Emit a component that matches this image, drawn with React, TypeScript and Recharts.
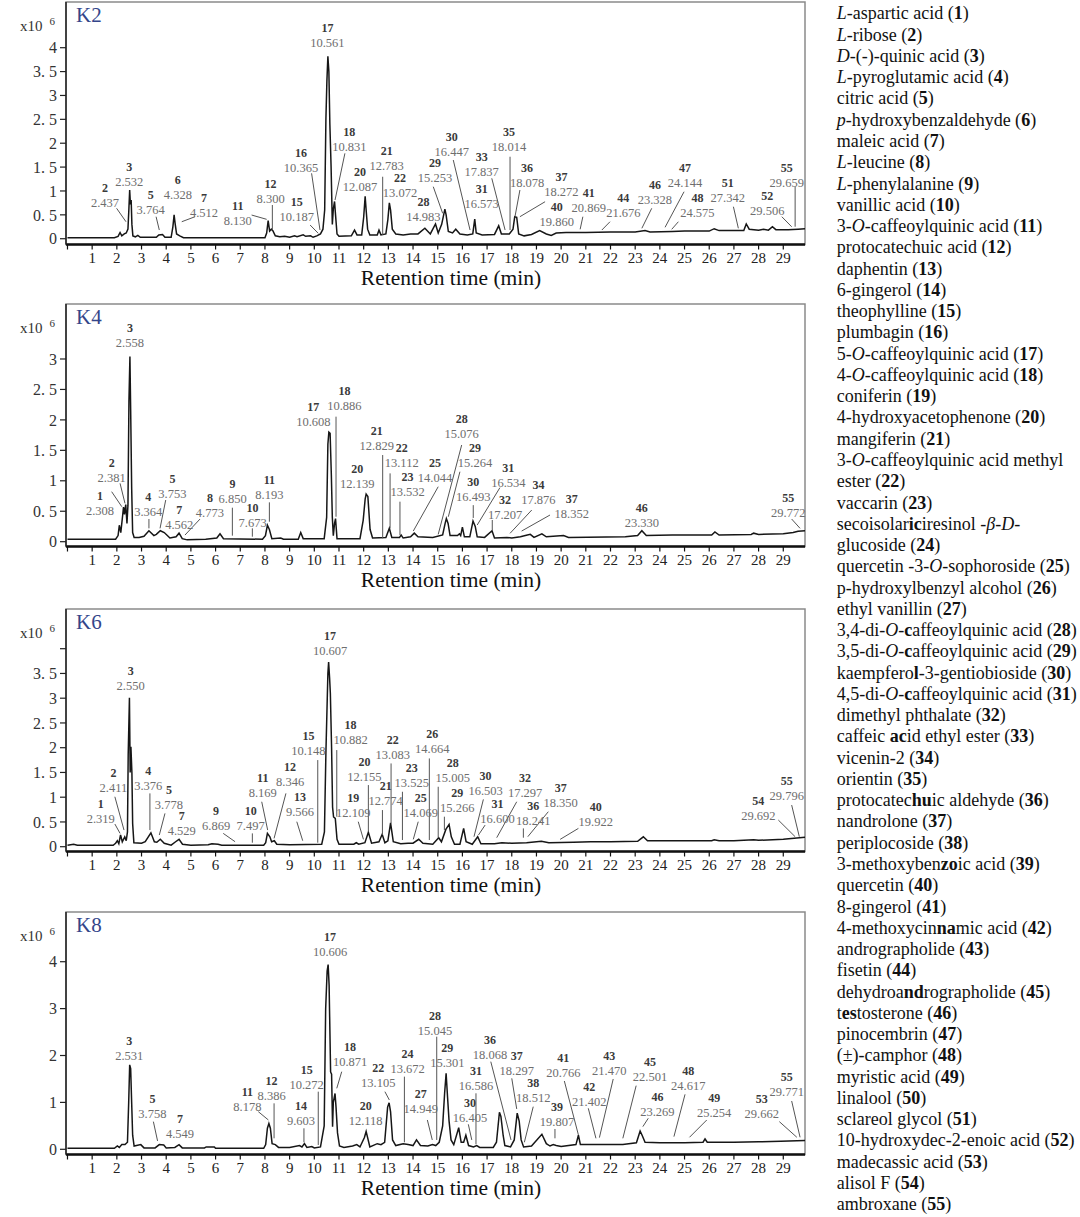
import React from 'react';
import { LineChart, Line, XAxis, YAxis, ReferenceDot, ReferenceLine, ReferenceArea } from 'recharts';

const FONT = '"Liberation Serif", "Times New Roman", serif';

const xTicks = [0, 1, 2, 3, 4, 5, 6, 7, 8, 9, 10, 11, 12, 13, 14, 15, 16, 17, 18, 19, 20, 21, 22, 23, 24, 25, 26, 27, 28, 29];
const xDomain: [number, number] = [-0.06, 29.88];

// ---- traces: [retention time (min), intensity (x10^6)] ----
const k2Trace = [[0,0.02],[1.9,0.02],[2.05,0.05],[2.13,0.13],[2.2,0.06],[2.3,0.1],[2.38,0.12],[2.45,0.2],[2.49,0.65],[2.52,1.02],[2.55,0.72],[2.58,0.81],[2.61,0.3],[2.65,0.06],[2.75,0.04],[2.85,0.07],[2.95,0.03],[3.6,0.03],[3.7,0.08],[3.85,0.09],[3.95,0.03],[4.2,0.03],[4.27,0.25],[4.32,0.5],[4.36,0.32],[4.42,0.1],[4.55,0.06],[4.7,0.02],[8.0,0.02],[8.07,0.12],[8.13,0.38],[8.19,0.16],[8.26,0.2],[8.32,0.17],[8.42,0.06],[8.6,0.04],[8.8,0.05],[9.0,0.03],[9.2,0.06],[9.3,0.04],[9.55,0.08],[9.65,0.05],[9.85,0.06],[9.95,0.03],[10.1,0.06],[10.25,0.1],[10.35,0.2],[10.42,0.6],[10.47,2.5],[10.51,3.3],[10.55,3.82],[10.59,3.5],[10.63,2.4],[10.68,1.5],[10.73,0.3],[10.77,0.62],[10.82,0.78],[10.86,0.5],[10.92,0.1],[11.0,0.05],[11.5,0.06],[11.63,0.18],[11.73,0.08],[11.92,0.08],[12.0,0.45],[12.06,0.89],[12.1,0.6],[12.16,0.2],[12.25,0.08],[12.55,0.08],[12.62,0.18],[12.7,0.08],[12.9,0.1],[12.98,0.4],[13.04,0.75],[13.09,0.6],[13.16,0.2],[13.3,0.1],[13.6,0.08],[13.9,0.1],[14.2,0.1],[14.48,0.22],[14.7,0.1],[14.91,0.31],[15.02,0.12],[15.16,0.3],[15.29,0.62],[15.34,0.5],[15.43,0.15],[15.6,0.12],[15.73,0.2],[15.9,0.1],[16.2,0.08],[16.42,0.1],[16.5,0.41],[16.56,0.12],[16.8,0.08],[17.3,0.09],[17.47,0.27],[17.58,0.1],[17.9,0.1],[18.05,0.2],[18.12,0.46],[18.2,0.45],[18.28,0.1],[18.5,0.06],[18.8,0.09],[19.13,0.17],[19.4,0.1],[19.6,0.07],[19.8,0.12],[20.2,0.13],[21,0.13],[22,0.14],[23,0.14],[23.4,0.17],[23.6,0.14],[24.5,0.15],[25,0.16],[26.0,0.16],[26.2,0.21],[26.4,0.17],[27.4,0.17],[27.5,0.31],[27.62,0.2],[28,0.18],[28.2,0.2],[28.4,0.18],[28.56,0.25],[28.7,0.19],[29.2,0.19],[29.6,0.2],[29.88,0.21]];

const k4Trace = [[0,0.04],[1.95,0.04],[2.05,0.1],[2.1,0.27],[2.16,0.15],[2.24,0.45],[2.27,0.57],[2.31,0.45],[2.36,0.61],[2.41,0.3],[2.45,0.6],[2.49,2.3],[2.53,3.04],[2.56,2.16],[2.6,0.89],[2.64,0.15],[2.7,0.07],[2.9,0.07],[3.1,0.09],[3.3,0.18],[3.5,0.1],[3.6,0.12],[3.76,0.18],[3.92,0.15],[4.15,0.06],[4.4,0.08],[4.52,0.14],[4.65,0.05],[4.85,0.03],[5.6,0.04],[6.05,0.06],[6.18,0.13],[6.32,0.05],[7.9,0.04],[8.02,0.1],[8.1,0.27],[8.18,0.2],[8.28,0.05],[8.64,0.06],[8.75,0.04],[9.35,0.04],[9.45,0.15],[9.55,0.05],[10.4,0.05],[10.5,0.4],[10.55,1.6],[10.59,1.8],[10.64,1.78],[10.69,1.1],[10.73,0.4],[10.77,0.1],[10.82,0.3],[10.86,0.38],[10.92,0.05],[11.85,0.05],[11.98,0.35],[12.06,0.7],[12.1,0.78],[12.17,0.74],[12.26,0.2],[12.36,0.06],[12.9,0.07],[13.04,0.22],[13.14,0.07],[13.45,0.07],[13.52,0.11],[13.6,0.06],[13.9,0.08],[14.05,0.14],[14.2,0.08],[14.8,0.07],[15.2,0.11],[15.3,0.3],[15.35,0.38],[15.42,0.3],[15.5,0.1],[15.8,0.1],[15.88,0.13],[15.93,0.1],[16.0,0.24],[16.08,0.08],[16.3,0.08],[16.43,0.34],[16.52,0.25],[16.6,0.08],[16.9,0.07],[17.2,0.18],[17.3,0.06],[17.8,0.07],[18.0,0.06],[18.35,0.08],[18.55,0.1],[18.75,0.12],[18.9,0.07],[19.22,0.13],[19.4,0.08],[20.1,0.1],[20.3,0.07],[22.6,0.08],[23.1,0.1],[23.27,0.18],[23.45,0.1],[24.5,0.11],[25.5,0.11],[26.1,0.11],[26.23,0.16],[26.4,0.11],[27.7,0.12],[27.8,0.14],[28.0,0.12],[29.0,0.13],[29.4,0.15],[29.6,0.17],[29.88,0.18]];

const k6Trace = [[0,0.03],[0.25,0.05],[0.4,0.03],[1.85,0.03],[1.95,0.07],[2.02,0.12],[2.08,0.06],[2.15,0.24],[2.22,0.1],[2.32,0.2],[2.38,0.12],[2.43,0.3],[2.46,1.87],[2.51,3.01],[2.54,1.5],[2.57,2.02],[2.61,1.5],[2.64,0.47],[2.69,0.08],[3.0,0.07],[3.15,0.1],[3.38,0.28],[3.52,0.1],[3.62,0.09],[3.76,0.15],[3.92,0.07],[4.2,0.03],[4.38,0.1],[4.52,0.15],[4.66,0.05],[5.0,0.03],[5.7,0.04],[5.85,0.06],[6.1,0.05],[6.25,0.03],[7.95,0.03],[8.03,0.08],[8.1,0.27],[8.2,0.2],[8.27,0.1],[8.38,0.12],[8.48,0.05],[9.0,0.04],[10.3,0.05],[10.41,0.3],[10.47,1.9],[10.5,2.5],[10.55,3.5],[10.58,3.73],[10.62,3.4],[10.65,3.1],[10.7,2.0],[10.74,0.8],[10.78,0.6],[10.85,0.57],[10.92,0.15],[11.0,0.05],[11.6,0.05],[11.7,0.08],[11.8,0.05],[12.05,0.08],[12.19,0.29],[12.32,0.07],[12.62,0.1],[12.75,0.25],[12.86,0.08],[12.98,0.12],[13.09,0.48],[13.2,0.1],[13.5,0.06],[13.8,0.07],[14.0,0.07],[14.23,0.15],[14.4,0.07],[14.8,0.05],[15.04,0.18],[15.15,0.1],[15.33,0.35],[15.46,0.45],[15.55,0.2],[15.68,0.05],[15.9,0.05],[16.05,0.37],[16.15,0.1],[16.4,0.05],[16.62,0.2],[16.75,0.06],[17.3,0.06],[17.6,0.08],[18.0,0.07],[18.6,0.08],[19.2,0.11],[19.5,0.08],[20.5,0.09],[21.2,0.1],[22.0,0.1],[23.1,0.11],[23.33,0.2],[23.5,0.12],[25.0,0.12],[26.1,0.12],[26.2,0.14],[26.4,0.12],[27.0,0.12],[27.8,0.14],[28.0,0.13],[29.0,0.15],[29.88,0.19]];

const k8Trace = [[0,0.02],[1.9,0.02],[2.02,0.07],[2.1,0.04],[2.2,0.1],[2.33,0.1],[2.43,0.15],[2.48,1.0],[2.52,1.8],[2.56,1.72],[2.6,1.0],[2.64,0.3],[2.7,0.07],[2.97,0.1],[3.1,0.03],[3.55,0.03],[3.72,0.1],[3.9,0.09],[4.0,0.03],[4.35,0.04],[4.52,0.1],[4.65,0.03],[5.55,0.03],[5.62,0.05],[5.95,0.05],[6.0,0.02],[7.95,0.02],[8.03,0.1],[8.1,0.45],[8.16,0.55],[8.22,0.45],[8.29,0.12],[8.42,0.1],[8.55,0.04],[9.0,0.04],[9.4,0.08],[9.5,0.05],[9.6,0.12],[9.7,0.04],[9.9,0.06],[10.0,0.03],[10.25,0.05],[10.4,0.5],[10.46,3.0],[10.52,3.8],[10.56,3.94],[10.6,3.5],[10.66,1.65],[10.7,1.6],[10.74,0.48],[10.77,1.0],[10.84,1.19],[10.88,0.9],[10.94,0.35],[11.02,0.07],[11.2,0.04],[11.55,0.07],[11.72,0.1],[11.85,0.05],[12.03,0.25],[12.1,0.38],[12.16,0.25],[12.25,0.05],[12.55,0.12],[12.7,0.1],[12.85,0.15],[12.97,0.9],[13.03,0.99],[13.09,0.8],[13.17,0.2],[13.3,0.08],[13.6,0.12],[13.8,0.1],[14.0,0.08],[14.14,0.2],[14.3,0.08],[14.6,0.07],[14.79,0.1],[14.92,0.08],[15.06,0.15],[15.2,0.5],[15.28,1.2],[15.34,1.62],[15.4,1.1],[15.46,0.6],[15.54,0.2],[15.65,0.1],[15.85,0.46],[15.95,0.15],[16.05,0.15],[16.14,0.3],[16.25,0.08],[16.45,0.05],[16.58,0.08],[16.7,0.04],[17.25,0.04],[17.38,0.15],[17.5,0.79],[17.56,0.7],[17.65,0.3],[17.72,0.08],[17.95,0.05],[18.1,0.2],[18.22,0.77],[18.3,0.6],[18.38,0.2],[18.48,0.05],[18.8,0.07],[19.22,0.32],[19.4,0.12],[19.55,0.07],[19.68,0.1],[19.8,0.08],[20.0,0.06],[20.6,0.1],[20.7,0.3],[20.78,0.1],[21.5,0.1],[22.5,0.1],[23.05,0.14],[23.2,0.39],[23.28,0.3],[23.4,0.15],[24.0,0.14],[25.0,0.14],[25.75,0.15],[25.83,0.22],[25.92,0.15],[27.0,0.15],[28.0,0.16],[28.9,0.17],[29.88,0.19]];

// ---- peak annotations: [compound no., retention time text, label x, label y, leader x1, y1, x2, y2] ----
type Ann = (string | number)[];
const k2Labels: Ann[] = [
  ['2','2.437',1.52,0.741,1.99,0.637,2.37,0.356],
  ['3','2.532',2.50,1.194],
  ['5','3.764',3.37,0.601,3.59,0.461,3.72,0.182],
  ['6','4.328',4.47,0.915],
  ['7','4.512',5.53,0.532,5.17,0.461,4.63,0.356],
  ['11','8.130',6.90,0.377,7.46,0.496,8.07,0.406],
  ['12','8.300',8.23,0.831,8.30,0.706,8.30,0.182],
  ['15','10.187',9.29,0.448,9.83,0.287,10.16,0.113],
  ['16','10.365',9.46,1.474,9.89,1.37,10.23,0.182],
  ['17','10.561',10.53,4.092],
  ['18','10.831',11.42,1.927,11.24,1.788,10.84,0.81],
  ['20','12.087',11.85,1.089],
  ['21','12.783',12.93,1.523,12.77,1.298,12.77,0.077],
  ['22','13.072',13.47,0.951],
  ['28','14.983',14.42,0.461],
  ['29','15.253',14.89,1.265,14.82,1.089,15.20,0.532],
  ['30','16.447',15.57,1.822,15.63,1.648,16.31,0.182],
  ['31','16.573',16.78,0.727],
  ['33','17.837',16.78,1.403,17.19,1.265,17.73,0.182],
  ['35','18.014',17.89,1.914,17.93,1.717,17.93,0.182],
  ['36','18.078',18.62,1.16,18.33,1.02,18.13,0.461],
  ['37','18.272',20.01,0.984,19.35,0.775,18.33,0.461],
  ['40','19.860',19.82,0.356],
  ['41','20.869',21.12,0.637,20.88,0.461,20.77,0.197],
  ['44','21.676',22.52,0.532,21.98,0.356,21.65,0.182],
  ['46','23.328',23.80,0.81,23.67,0.637,23.27,0.218],
  ['47','24.144',25.02,1.16,24.98,0.984,24.21,0.239],
  ['48','24.575',25.52,0.532,24.75,0.356,24.48,0.197],
  ['51','27.342',26.75,0.846,26.98,0.67,27.18,0.218],
  ['52','29.506',28.35,0.586,28.94,0.461,29.34,0.251],
  ['55','29.659',29.14,1.173,29.48,1.089,29.48,0.251],
];

const k4Labels: Ann[] = [
  ['1','2.308',1.32,0.504,1.79,0.821,2.20,0.575],
  ['2','2.381',1.79,1.051,2.13,0.958,2.33,0.629],
  ['3','2.558',2.53,3.257],
  ['4','3.364',3.27,0.482,3.30,0.372,3.30,0.219],
  ['5','3.753',4.25,0.777,3.98,0.684,3.75,0.219],
  ['7','4.562',4.53,0.274],
  ['8','4.773',5.77,0.465,5.37,0.372,4.76,0.109],
  ['9','6.850',6.69,0.701,6.68,0.558,6.68,0.099],
  ['10','7.673',7.50,0.312,7.49,0.219,7.49,0.082],
  ['11','8.193',8.18,0.766,8.18,0.646,8.18,0.328],
  ['17','10.608',9.96,1.97],
  ['18','10.886',11.22,2.233,10.88,2.053,10.88,0.41],
  ['20','12.139',11.74,0.947],
  ['21','12.829',12.53,1.571,12.77,1.423,12.77,0.055],
  ['22','13.112',13.54,1.297,13.07,1.122,13.07,0.219],
  ['23','13.532',13.78,0.81,13.47,0.657,13.47,0.109],
  ['25','14.044',14.89,1.04,15.02,0.903,14.01,0.175],
  ['28','15.076',15.97,1.762,15.97,1.587,15.02,0.12],
  ['29','15.264',16.51,1.286,15.90,1.149,15.43,0.41],
  ['30','16.493',16.44,0.739,16.44,0.6,16.44,0.39],
  ['31','16.534',17.86,0.969,17.52,0.887,16.6,0.274],
  ['32','17.207',17.73,0.438,17.21,0.356,17.21,0.192],
  ['34','17.876',19.08,0.684,18.81,0.52,17.93,0.137],
  ['37','18.352',20.43,0.454,19.55,0.438,18.40,0.175],
  ['46','23.330',23.27,0.307],
  ['55','29.772',29.2,0.465,29.34,0.372,29.68,0.219],
];

const k6Labels: Ann[] = [
  ['1','2.319',1.35,0.559,1.92,0.458,2.13,0.269],
  ['2','2.411',1.86,1.191,1.92,1.009,2.29,0.336],
  ['3','2.550',2.56,3.25],
  ['4','3.376',3.27,1.231,3.34,1.077,3.34,0.336],
  ['5','3.778',4.11,0.841,3.95,0.673,3.72,0.236],
  ['7','4.529',4.63,0.323],
  ['9','6.869',6.02,0.424,6.31,0.269,6.79,0.101],
  ['10','7.497',7.42,0.41,7.49,0.269,7.49,0.081],
  ['11','8.169',7.91,1.077,7.87,0.908,8.11,0.336],
  ['12','8.346',9.02,1.299,8.85,1.077,8.37,0.168],
  ['13','9.566',9.42,0.707,9.29,0.505,9.53,0.121],
  ['15','10.148',9.76,1.938,10.14,1.75,10.14,0.081],
  ['17','10.607',10.64,3.957],
  ['18','10.882',11.47,2.153,10.91,1.952,10.91,0.606],
  ['19','12.109',11.58,0.673,11.78,0.505,11.99,0.148],
  ['20','12.155',12.03,1.413,12.19,1.245,12.19,0.303],
  ['21','12.774',12.89,0.922,12.76,0.74,12.76,0.236],
  ['22','13.083',13.18,1.851,13.11,1.682,13.11,0.471],
  ['23','13.525',13.95,1.292,13.57,1.11,13.57,0.135],
  ['25','14.069',14.31,0.673,14.21,0.505,14.01,0.148],
  ['26','14.664',14.78,1.965,14.66,1.783,14.66,0.135],
  ['28','15.005',15.61,1.393,15.02,1.211,15.02,0.182],
  ['29','15.266',15.79,0.774,15.27,0.606,15.27,0.336],
  ['30','16.503',16.94,1.124,16.85,0.956,16.47,0.202],
  ['31','16.600',17.42,0.552,16.92,0.437,16.65,0.236],
  ['32','17.297',18.54,1.077,18.2,0.908,17.39,0.182],
  ['36','18.241',18.87,0.525,18.47,0.37,18.47,0.182],
  ['37','18.350',19.98,0.875,19.48,0.707,18.65,0.202],
  ['40','19.922',21.4,0.505,20.7,0.37,19.96,0.148],
  ['54','29.692',27.99,0.619,28.8,0.538,29.48,0.202],
  ['55','29.796',29.14,1.03,29.34,0.841,29.65,0.202],
];

const k8Labels: Ann[] = [
  ['3','2.531',2.50,1.996],
  ['5','3.758',3.44,0.746,3.48,0.59,3.65,0.178],
  ['7','4.549',4.56,0.32],
  ['11','8.178',7.29,0.895,7.73,0.803,8.14,0.625],
  ['12','8.386',8.27,1.137,8.37,0.98,8.37,0.234],
  ['14','9.603',9.46,0.611,9.58,0.448,9.58,0.149],
  ['15','10.272',9.69,1.371,10.16,1.229,10.16,0.092],
  ['17','10.606',10.64,4.199],
  ['18','10.871',11.45,1.854,11.11,1.655,10.91,1.3],
  ['20','12.118',12.08,0.611],
  ['22','13.105',12.59,1.421,12.86,1.229,13.04,1.052],
  ['24','13.672',13.78,1.705,13.65,1.549,13.65,0.149],
  ['27','14.949',14.31,0.853,14.58,0.625,14.78,0.199],
  ['28','15.045',14.89,2.529,14.96,2.401,14.96,0.199],
  ['29','15.301',15.39,1.833],
  ['30','16.405',16.31,0.661,16.24,0.533,16.38,0.199],
  ['31','16.586',16.55,1.35,16.55,1.194,16.55,0.107],
  ['36','18.068',17.12,2.011,17.15,1.869,17.97,0.199],
  ['37','18.297',18.2,1.67,18.0,1.513,18.2,0.86],
  ['38','18.512',18.87,1.087,18.87,0.909,18.51,0.149],
  ['39','19.807',19.83,0.59,19.75,0.433,19.75,0.234],
  ['41','20.766',20.09,1.62,20.13,1.456,20.70,0.306],
  ['42','21.402',21.14,1.016,21.1,0.874,21.41,0.234],
  ['43','21.470',21.95,1.677,22.11,1.499,21.55,0.249],
  ['45','22.501',23.6,1.535,23.04,1.357,22.5,0.234],
  ['46','23.269',23.9,0.789,23.53,0.661,23.31,0.483],
  ['48','24.617',25.15,1.35,25.02,1.172,24.57,0.27],
  ['49','25.254',26.2,0.767,25.9,0.625,25.2,0.256],
  ['53','29.662',28.13,0.753,28.84,0.59,29.55,0.256],
  ['55','29.771',29.14,1.229,29.34,1.03,29.68,0.256],
];

// ---- y axes ----
const k2YTicks = [0, 0.5, 1, 1.5, 2, 2.5, 3, 3.5, 4];
const k2YTickLabels = ['0', '0. 5', '1', '1. 5', '2', '2. 5', '3', '3. 5', '4'];
const k4YTicks = [0, 0.5, 1, 1.5, 2, 2.5, 3];
const k4YTickLabels = ['0', '0. 5', '1', '1. 5', '2', '2. 5', '3'];
const k6YTicks = [0, 0.5, 1, 1.5, 2, 2.5, 3, 3.5, 4];
const k6YTickLabels = ['0', '0. 5', '1', '1. 5', '2', '2. 5', '3', '3. 5', ''];
const k8YTicks = [0, 1, 2, 3, 4];
const k8YTickLabels = ['0', '1', '2', '3', '4'];

const k2YDomain: [number, number] = [-0.121, 4.957];
const k4YDomain: [number, number] = [-0.079, 3.903];
const k6YDomain: [number, number] = [-0.097, 4.802];
const k8YDomain: [number, number] = [-0.111, 5.06];

const panelNames = ['K2', 'K4', 'K6', 'K8'];

// ---- compound list (_italic_, *bold*) ----
const compoundLines = [
  '_L_-aspartic acid (*1*)',
  '_L_-ribose (*2*)',
  '_D_-(-)-quinic acid (*3*)',
  '_L_-pyroglutamic acid (*4*)',
  'citric acid (*5*)',
  '_p_-hydroxybenzaldehyde (*6*)',
  'maleic acid (*7*)',
  '_L_-leucine (*8*)',
  '_L_-phenylalanine (*9*)',
  'vanillic acid (*10*)',
  '3-_O_-caffeoylquinic acid (*11*)',
  'protocatechuic acid (*12*)',
  'daphentin (*13*)',
  '6-gingerol (*14*)',
  'theophylline (*15*)',
  'plumbagin (*16*)',
  '5-_O_-caffeoylquinic acid (*17*)',
  '4-_O_-caffeoylquinic acid (*18*)',
  'coniferin (*19*)',
  '4-hydroxyacetophenone (*20*)',
  'mangiferin (*21*)',
  '3-_O_-caffeoylquinic acid methyl',
  'ester (*22*)',
  'vaccarin (*23*)',
  'secoisolar*ic*iresinol -_β-D_-',
  'glucoside (*24*)',
  'quercetin -3-_O_-sophoroside (*25*)',
  'p-hydroxylbenzyl alcohol (*26*)',
  'ethyl vanillin (*27*)',
  '3,4-di-_O_-*c*affeoylquinic acid (*28*)',
  '3,5-di-_O_-*c*affeoylquinic acid (*29*)',
  'kaempfero*l*-3-gentiobioside (*30*)',
  '4,5-di-_O_-*c*affeoylquinic acid (*31*)',
  'dimethyl phthalate (*32*)',
  'caffeic *ac*id ethyl ester (*33*)',
  'vicenin-2 (*34*)',
  'orientin (*35*)',
  'protocatec*hu*ic aldehyde (*36*)',
  'nandrolone (*37*)',
  'periplocoside (*38*)',
  '3-methoxyben*zo*ic acid (*39*)',
  'quercetin (*40*)',
  '8-gingerol (*41*)',
  '4-methoxycin*na*mic acid (*42*)',
  'andrographolide (*43*)',
  'fisetin (*44*)',
  'dehydroa*nd*rographolide (*45*)',
  't*es*tosterone (*46*)',
  'pinocembrin (*47*)',
  '(±)-camphor (*48*)',
  'myristic acid (*49*)',
  'linalool (*50*)',
  'sclareol glycol (*51*)',
  '10-hydroxydec-2-enoic acid (*52*)',
  'madecassic acid (*53*)',
  'alisol F (*54*)',
  'ambroxane (*55*)',
];

function renderRich(s: string) {
  const parts = s.split(/(_[^_]+_|\*[^*]+\*)/).filter((p) => p.length > 0);
  return parts.map((p, i) => {
    if (p.startsWith('_') && p.endsWith('_')) return <i key={i}>{p.slice(1, -1)}</i>;
    if (p.startsWith('*') && p.endsWith('*')) return <b key={i}>{p.slice(1, -1)}</b>;
    return <span key={i}>{p}</span>;
  });
}

const PeakLabel = (id: string, rt: string) => (props: any) => {
  const { cx, cy } = props;
  if (cx == null || cy == null) return <g />;
  return (
    <g>
      <text x={cx} y={cy - 15} textAnchor="middle" dominantBaseline="central" fontSize={12} fontWeight="bold" fill="#3a3a3a" fontFamily={FONT}>{id}</text>
      <text x={cx} y={cy} textAnchor="middle" dominantBaseline="central" fontSize={12.5} fill="#6e6e6e" fontFamily={FONT}>{rt}</text>
    </g>
  );
};

type PanelProps = {
  name: string;
  trace: number[][];
  labels: Ann[];
  yDomain: [number, number];
  yTicks: number[];
  yTickLabels: string[];
  top: number;
};

function Panel({ name, trace, labels, yDomain, yTicks, yTickLabels, top }: PanelProps) {
  const data = trace.map(([t, y]) => ({ t, y }));
  const yFmt = (v: number) => {
    const idx = yTicks.findIndex((k) => Math.abs(k - v) < 1e-9);
    return idx >= 0 ? yTickLabels[idx] : '';
  };
  return (
    <div style={{ position: 'absolute', left: 0, top, width: 820, height: 300 }}>
      <LineChart width={820} height={300} data={data} margin={{ top: 2, right: 15, bottom: 31.5, left: 6 }}>
        <ReferenceArea x1={xDomain[0]} x2={xDomain[1]} y1={yDomain[0]} y2={yDomain[1]} fill="none" stroke="#8a8a8a" strokeWidth={1.5} ifOverflow="visible" />
        <XAxis
          type="number"
          dataKey="t"
          domain={xDomain}
          ticks={xTicks}
          interval={0}
          allowDataOverflow
          height={24}
          tickSize={5}
          tickMargin={3}
          tickFormatter={(v: number) => (v === 0 ? '' : String(v))}
          axisLine={{ stroke: '#111', strokeWidth: 2.5 }}
          tickLine={{ stroke: '#111', strokeWidth: 1.2 }}
          tick={{ fontSize: 15, fill: '#222', fontFamily: FONT }}
        />
        <YAxis
          type="number"
          domain={yDomain}
          ticks={yTicks}
          interval={0}
          allowDataOverflow
          width={60}
          tickSize={6}
          tickMargin={3}
          tickFormatter={yFmt}
          axisLine={{ stroke: '#222', strokeWidth: 1.5 }}
          tickLine={{ stroke: '#222', strokeWidth: 1.2 }}
          tick={{ fontSize: 16, fill: '#333', fontFamily: FONT }}
        />
        <Line dataKey="y" type="linear" dot={false} activeDot={false} stroke="#161616" strokeWidth={1.5} isAnimationActive={false} />
        {labels.map((a, i) =>
          a.length > 4 ? (
            <ReferenceLine
              key={'l' + i}
              segment={[{ x: a[4] as number, y: a[5] as number }, { x: a[6] as number, y: a[7] as number }]}
              stroke="#555"
              strokeWidth={1}
              ifOverflow="visible"
            />
          ) : null
        )}
        {labels.map((a, i) => (
          <ReferenceDot
            key={'d' + i}
            x={a[2] as number}
            y={a[3] as number}
            r={0}
            ifOverflow="visible"
            shape={PeakLabel(a[0] as string, a[1] as string)}
          />
        ))}
      </LineChart>
      <div style={{ position: 'absolute', left: 76, top: 5, fontSize: 21, lineHeight: '21px', color: '#34458a', fontFamily: FONT }}>{name}</div>
      <div style={{ position: 'absolute', left: 20, top: 19, fontSize: 15, lineHeight: '15px', color: '#333', fontFamily: FONT, whiteSpace: 'nowrap' }}>
        x10<span style={{ position: 'relative', top: -6, fontSize: 11, marginLeft: 7 }}>6</span>
      </div>
      <div style={{ position: 'absolute', left: 301, width: 300, top: 266, textAlign: 'center', fontSize: 21.5, lineHeight: '24px', color: '#111', fontFamily: FONT, whiteSpace: 'nowrap' }}>
        Retention time (min)
      </div>
    </div>
  );
}

export default function App() {
  const panels: PanelProps[] = [
    { name: panelNames[0], trace: k2Trace, labels: k2Labels, yDomain: k2YDomain, yTicks: k2YTicks, yTickLabels: k2YTickLabels, top: 0 },
    { name: panelNames[1], trace: k4Trace, labels: k4Labels, yDomain: k4YDomain, yTicks: k4YTicks, yTickLabels: k4YTickLabels, top: 302 },
    { name: panelNames[2], trace: k6Trace, labels: k6Labels, yDomain: k6YDomain, yTicks: k6YTicks, yTickLabels: k6YTickLabels, top: 607 },
    { name: panelNames[3], trace: k8Trace, labels: k8Labels, yDomain: k8YDomain, yTicks: k8YTicks, yTickLabels: k8YTickLabels, top: 910 },
  ];
  return (
    <div style={{ position: 'absolute', left: 0, top: 0, width: 1080, height: 1217, background: '#fff', fontFamily: FONT, overflow: 'hidden' }}>
      {panels.map((p) => (
        <Panel key={p.name} {...p} />
      ))}
      <div style={{ position: 'absolute', left: 836.7, top: 3.4, fontSize: 18, lineHeight: '21.26px', color: '#111', fontFamily: FONT }}>
        {compoundLines.map((l, i) => (
          <div key={i} style={{ whiteSpace: 'nowrap' }}>{renderRich(l)}</div>
        ))}
      </div>
    </div>
  );
}
